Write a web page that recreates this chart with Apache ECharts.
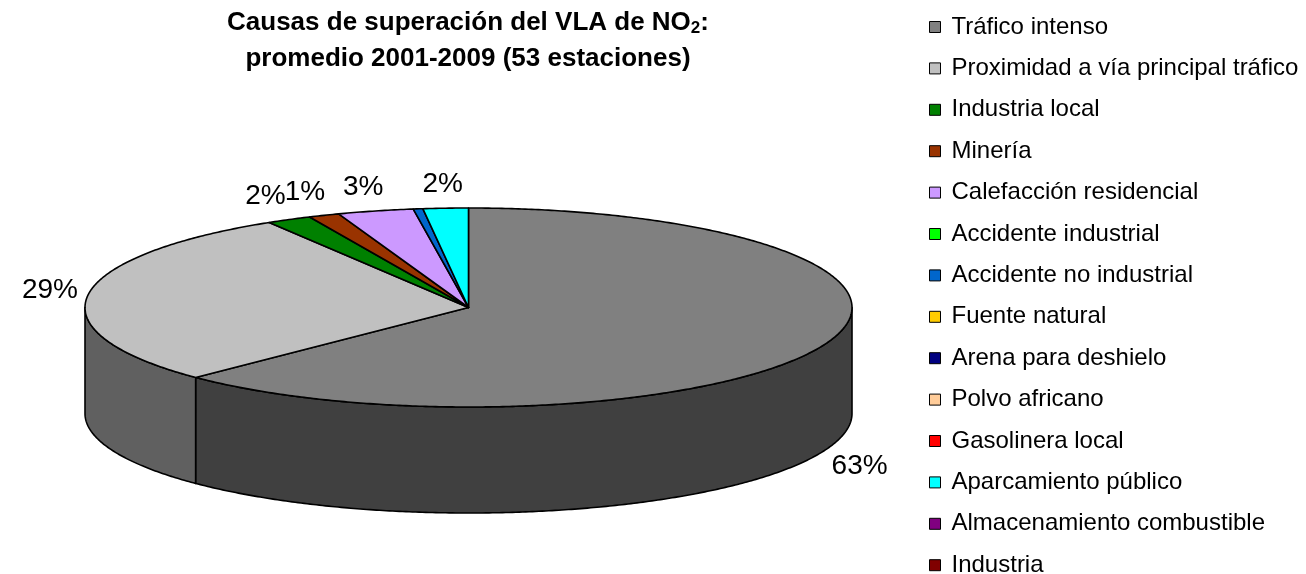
<!DOCTYPE html>
<html>
<head>
<meta charset="utf-8">
<script src="https://cdn.jsdelivr.net/npm/echarts@6/dist/echarts.min.js"></script>
<style>
html,body{margin:0;padding:0;background:#fff;}
#chart{width:1306px;height:574px;}
</style>
</head>
<body>
<div id="chart"></div>
<script>
// ---- data ----
var categories = [
  'Tráfico intenso',
  'Proximidad a vía principal tráfico',
  'Industria local',
  'Minería',
  'Calefacción residencial',
  'Accidente industrial',
  'Accidente no industrial',
  'Fuente natural',
  'Arena para deshielo',
  'Polvo africano',
  'Gasolinera local',
  'Aparcamiento público',
  'Almacenamiento combustible',
  'Industria'
];
var values = [62.6, 28.7, 1.9, 1.3, 3.2, 0, 0.4, 0, 0, 0, 0, 1.9, 0, 0];

// ---- styles ----
var colors = ['#808080', '#C0C0C0', '#008000', '#993300', '#CC99FF', '#00FF00', '#0066CC',
              '#FFCC00', '#000080', '#FFCC99', '#FF0000', '#00FFFF', '#800080', '#800000'];
var FONT = '"Liberation Sans", Arial, sans-serif';
var LABEL_SIZE = 28;

function darker(hex, f) {
  var n = parseInt(hex.slice(1), 16);
  var r = Math.round(((n >> 16) & 255) * f), g = Math.round(((n >> 8) & 255) * f), b = Math.round((n & 255) * f);
  return 'rgb(' + r + ',' + g + ',' + b + ')';
}

var measureCtx = document.createElement('canvas').getContext('2d');
function textWidth(s) {
  measureCtx.font = LABEL_SIZE + 'px ' + FONT;
  return measureCtx.measureText(s).width;
}

var total = values.reduce(function (a, b) { return a + b; }, 0);
var cumStart = [];
(function () { var c = 0; for (var i = 0; i < values.length; i++) { cumStart.push(c); c += values[i]; } })();

// geometry of the tilted pie (pixels)
var G = { cx: 468.5, cy: 307.5, rx: 383.5, ry: 99.5, depth: 106 };

function pt(deg, dy) {
  var a = deg * Math.PI / 180;
  return [G.cx + G.rx * Math.sin(a), G.cy - G.ry * Math.cos(a) + (dy || 0)];
}

function arcPts(a0, a1, dy) {
  var pts = [];
  var n = Math.max(2, Math.ceil(Math.abs(a1 - a0) / 0.5));
  for (var k = 0; k <= n; k++) pts.push(pt(a0 + (a1 - a0) * k / n, dy));
  return pts;
}

function makeRender(idx) {
  return function (params, api) {
    var v = values[idx];
    if (!(v > 0)) return null;
    var a0 = cumStart[idx] / total * 360;
    var a1 = (cumStart[idx] + v) / total * 360;
    var children = [];
    // front wall (visible between 90° and 270° clockwise from top)
    var w0 = Math.max(a0, 90), w1 = Math.min(a1, 270);
    if (w1 > w0) {
      var top = arcPts(w0, w1, 0);
      var bot = arcPts(w1, w0, G.depth);
      children.push({
        type: 'polygon',
        shape: { points: top.concat(bot) },
        style: { fill: darker(colors[idx], 0.5), stroke: '#000', lineWidth: 1.6, lineJoin: 'round' }
      });
    }
    // top face
    var pts = [[G.cx, G.cy]].concat(arcPts(a0, a1, 0));
    children.push({
      type: 'polygon',
      shape: { points: pts },
      style: { fill: colors[idx], stroke: '#000', lineWidth: 1.6, lineJoin: 'round' }
    });
    // percentage label, placed just outside the rim
    var pct = Math.round(v / total * 100);
    if (pct >= 1) {
      var txt = pct + '%';
      var mid = (a0 + a1) / 2, m = mid * Math.PI / 180;
      var s = Math.sin(m), c = Math.cos(m);
      var p = pt(mid, c < 0 ? G.depth : 0);
      var ax = p[0] + 10 * s, ay = p[1] - 10 * c;
      var w = textWidth(txt), h = LABEL_SIZE;
      var lx = ax + (s >= 0 ? 1 : -1) * Math.min(1, 2 * Math.abs(s)) * w / 2;
      var ly = ay - (c >= 0 ? 1 : -1) * Math.min(1, 2 * Math.abs(c)) * h / 2;
      children.push({
        type: 'text',
        x: lx, y: ly,
        style: { text: txt, fontSize: LABEL_SIZE, fontFamily: FONT, fill: '#000', align: 'center', verticalAlign: 'middle' }
      });
    }
    return { type: 'group', children: children };
  };
}

var series = categories.map(function (name, i) {
  return {
    type: 'custom',
    name: name,
    coordinateSystem: 'none',
    itemStyle: { color: colors[i] },
    data: [[values[i]]],
    silent: true,
    animation: false,
    renderItem: makeRender(i)
  };
});

var chart = echarts.init(document.getElementById('chart'), null, { renderer: 'canvas' });
chart.setOption({
  backgroundColor: '#fff',
  animation: false,
  title: {
    text: '{t|Causas de superación del VLA de NO}{s|2}{t|:}\n{t|promedio 2001-2009 (53 estaciones)}',
    left: 463, top: 0, textAlign: 'center',
    textStyle: {
      rich: {
        t: { fontSize: 26, fontWeight: 'bold', fontFamily: FONT, color: '#000', lineHeight: 36 },
        s: { fontSize: 17, fontWeight: 'bold', fontFamily: FONT, color: '#000', lineHeight: 36, padding: [10, 0, 0, 0] }
      }
    }
  },
  legend: {
    orient: 'vertical',
    left: 929, top: 12,
    height: 570,
    padding: 0,
    itemWidth: 11, itemHeight: 11,
    itemGap: 11.4,
    icon: 'rect',
    selectedMode: false,
    itemStyle: { borderColor: '#000', borderWidth: 1 },
    textStyle: { fontSize: 24, fontFamily: FONT, color: '#000', lineHeight: 24, padding: [0, 0, 6, 6] },
    data: categories
  },
  series: series
});
</script>
</body>
</html>
